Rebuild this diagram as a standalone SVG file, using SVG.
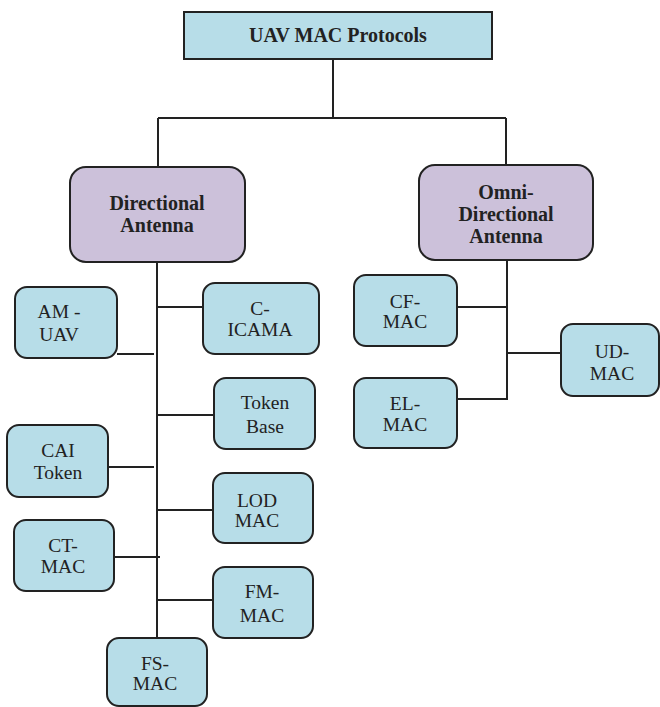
<svg xmlns="http://www.w3.org/2000/svg" width="660" height="707" viewBox="0 0 660 707">
<style>
.b{fill:#b7dde8;stroke:#222;stroke-width:2}
.p{fill:#ccc1da;stroke:#222;stroke-width:2}
.n text{font-size:19.5px;fill:#222;text-anchor:middle}
.n text.t{font-weight:bold;font-size:20px}
.c{fill:none;stroke:#222;stroke-width:2}
</style>
<rect width="660" height="707" fill="#fff"/>
<g id="connectors" class="c">
<path d="M333,59V118M158,118H506M158,118V167M506,118V165"/>
<path d="M157,262V638"/>
<path d="M157,307H203M117,354H154M157,415H214M108,467H154M157,510H213M114,557H160M157,600H213"/>
<path d="M507,260V400M457,307H507M507,353H561M453,399H507"/>
</g>
<g class="n" font-family="Liberation Serif, DejaVu Serif, serif">
<g id="root"><rect class="b" x="184" y="12" width="308" height="47"/><text class="t" x="338" y="42">UAV MAC Protocols</text></g>
<g id="directional"><rect class="p" x="70" y="167" width="175" height="95" rx="16"/><text class="t" x="157" y="210">Directional</text><text class="t" x="157" y="232">Antenna</text></g>
<g id="omni"><rect class="p" x="419" y="165" width="174" height="95" rx="16"/><text class="t" x="506" y="199">Omni-</text><text class="t" x="506" y="221">Directional</text><text class="t" x="506" y="243">Antenna</text></g>
<g id="am-uav"><rect class="b" x="15" y="287" width="102" height="71" rx="12"/><text x="59" y="318">AM -</text><text x="59" y="341">UAV</text></g>
<g id="c-icama"><rect class="b" x="203" y="283" width="116" height="71" rx="12"/><text x="260" y="315">C-</text><text x="260" y="336">ICAMA</text></g>
<g id="token-base"><rect class="b" x="214" y="378" width="101" height="71" rx="12"/><text x="265" y="409">Token</text><text x="265" y="433">Base</text></g>
<g id="cai-token"><rect class="b" x="7" y="425" width="101" height="72" rx="12"/><text x="58" y="457">CAI</text><text x="58" y="479">Token</text></g>
<g id="lod-mac"><rect class="b" x="213" y="473" width="100" height="70" rx="12"/><text x="257" y="507">LOD</text><text x="257" y="527">MAC</text></g>
<g id="ct-mac"><rect class="b" x="14" y="520" width="100" height="71" rx="12"/><text x="63" y="552">CT-</text><text x="63" y="573">MAC</text></g>
<g id="fm-mac"><rect class="b" x="213" y="567" width="100" height="71" rx="12"/><text x="262" y="598">FM-</text><text x="262" y="622">MAC</text></g>
<g id="fs-mac"><rect class="b" x="107" y="638" width="100" height="68" rx="12"/><text x="155" y="670">FS-</text><text x="155" y="690">MAC</text></g>
<g id="cf-mac"><rect class="b" x="354" y="275" width="103" height="71" rx="12"/><text x="405" y="308">CF-</text><text x="405" y="328">MAC</text></g>
<g id="el-mac"><rect class="b" x="354" y="378" width="103" height="70" rx="12"/><text x="405" y="410">EL-</text><text x="405" y="431">MAC</text></g>
<g id="ud-mac"><rect class="b" x="561" y="324" width="98" height="72" rx="12"/><text x="612" y="358">UD-</text><text x="612" y="380">MAC</text></g>
</g>
</svg>
